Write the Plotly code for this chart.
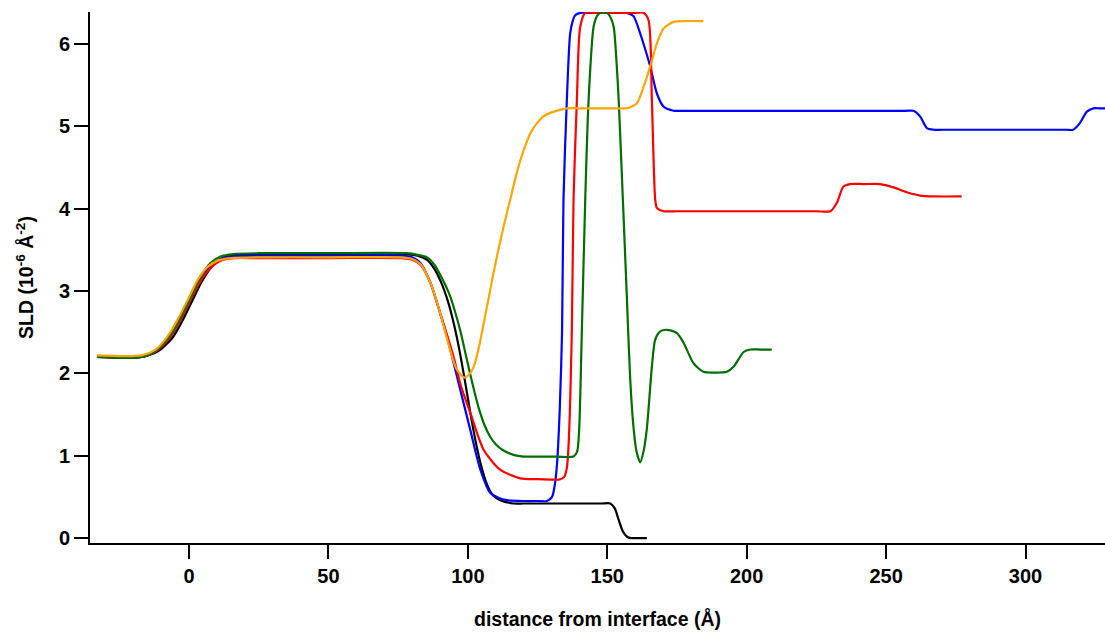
import plotly.graph_objects as go

# ---- data (distance in Å, SLD in 1e-6 Å^-2) ----
black_x = [-33, -17, -11, -6, -2.5, 1, 4.5, 8, 12, 17, 25, 50, 78, 82, 85.4, 88, 90.5, 93, 95,
           97, 99, 101, 103, 105, 107, 109, 111.6, 116.4, 120, 130, 140, 148, 151.1, 152.7,
           154.1, 155.6, 157.1, 158.5, 161, 164.2]
black_y = [2.2, 2.2, 2.27, 2.43, 2.63, 2.87, 3.11, 3.29, 3.40, 3.44, 3.45, 3.45, 3.45, 3.43,
           3.38, 3.27, 3.10, 2.86, 2.60, 2.28, 1.90, 1.50, 1.14, 0.85, 0.64, 0.52, 0.46, 0.42,
           0.42, 0.42, 0.42, 0.42, 0.42, 0.36, 0.22, 0.08, 0.016, 0.0, 0.0, 0.0]

blue_x = [-33, -17, -11.4, -6.6, -3, 0.5, 4.1, 7.7, 11.3, 16, 25, 50, 76, 80, 83, 86.6, 90.1,
          92.5, 94, 97.3, 100.9, 104.5, 108, 111, 114, 120, 125, 128.4, 130.2, 131.2, 132, 133,
          133.8, 134.3, 135.5, 136.7, 137.6, 138.5, 140.3, 143, 150, 154, 157, 159.4, 161.8,
          163.5, 165.4, 167.8, 170.2, 173.8, 177, 182, 200, 230, 252, 257, 259.8, 262.2, 264.6,
          267, 270, 290, 310, 314.5, 317.1, 319.5, 322, 324.3, 326.5, 328.5]
blue_y = [2.2, 2.2, 2.28, 2.45, 2.65, 2.89, 3.13, 3.30, 3.39, 3.42, 3.43, 3.43, 3.43, 3.41,
          3.34, 3.10, 2.73, 2.45, 2.25, 1.80, 1.31, 0.83, 0.55, 0.49, 0.46, 0.45, 0.45, 0.45,
          0.50, 0.65, 0.91, 1.6, 2.53, 4.11, 5.32, 6.13, 6.28, 6.35, 6.38, 6.38, 6.38, 6.38,
          6.38, 6.34, 6.13, 5.95, 5.73, 5.40, 5.24, 5.19, 5.19, 5.19, 5.19, 5.19, 5.19, 5.19,
          5.19, 5.12, 4.98, 4.96, 4.96, 4.96, 4.96, 4.96, 4.96, 5.04, 5.18, 5.22, 5.22, 5.22]

red_x = [-33, -17, -11.4, -6.6, -3, 0.5, 4.1, 7.7, 11.3, 16, 25, 50, 76, 80, 83, 86.6, 90.1,
         94.9, 97.5, 100.9, 105.7, 111.6, 118.8, 125, 130, 132.6, 134.5, 135.5, 136.1, 137.3,
         137.9, 139.1, 140.3, 142.1, 145, 150, 155, 160, 163, 164.8, 166, 167.2, 167.8, 170.2,
         175, 190, 210, 225, 230, 232.3, 234.7, 237.1, 242, 247.8, 252.6, 257.4, 262.2, 267,
         277.1]
red_y = [2.2, 2.2, 2.28, 2.45, 2.65, 2.89, 3.12, 3.28, 3.37, 3.40, 3.40, 3.40, 3.40, 3.38,
         3.32, 3.10, 2.73, 2.20, 1.85, 1.52, 1.07, 0.83, 0.725, 0.715, 0.71, 0.71, 0.74, 0.85,
         1.11, 2.53, 4.11, 5.32, 6.21, 6.38, 6.38, 6.38, 6.38, 6.38, 6.38, 6.29, 5.32, 4.11,
         4.01, 3.97, 3.97, 3.97, 3.97, 3.97, 3.97, 4.07, 4.27, 4.30, 4.30, 4.30, 4.26, 4.20,
         4.16, 4.15, 4.15]

green_x = [-33, -17, -11.4, -6.6, -3, 0.5, 4.1, 7.7, 11.3, 16, 25, 50, 78, 82, 85.4, 88, 90.5,
           93.5, 95.5, 97.5, 99.5, 101, 102.5, 104, 106, 108, 110, 112.5, 116.4, 120, 125, 132,
           137.9, 139.2, 139.9, 140.9, 142.1, 143.3, 145.1, 146.3, 147.5, 149.9, 151.1, 152.3,
           153.2, 154.1, 155.6, 157, 158.2, 159.4, 160.5, 161.8, 163, 164.2, 166, 167.2, 169,
           171.4, 175, 177.4, 181, 184.5, 188.7, 192.9, 195.3, 198.9, 201.3, 205, 209]
green_y = [2.2, 2.2, 2.29, 2.47, 2.68, 2.92, 3.17, 3.34, 3.42, 3.45, 3.46, 3.46, 3.46, 3.44,
           3.41, 3.32, 3.17, 2.95, 2.74, 2.49, 2.19, 1.97, 1.76, 1.57, 1.37, 1.23, 1.14, 1.07,
           1.01, 0.99, 0.99, 0.99, 0.99, 1.05, 1.3, 2.53, 4.11, 5.32, 6.21, 6.34, 6.38, 6.38,
           6.33, 6.21, 5.85, 5.32, 4.11, 2.95, 1.95, 1.35, 1.05, 0.92, 1.05, 1.33, 2.08, 2.41,
           2.51, 2.53, 2.49, 2.37, 2.12, 2.02, 2.01, 2.02, 2.08, 2.26, 2.29, 2.29, 2.29]

orange_x = [-33, -17, -12, -7.5, -4, -0.5, 3, 6.5, 10.3, 15, 25, 50, 76, 80, 83, 86.6, 90.1,
            93.7, 96, 98.7, 100.3, 102.1, 104, 105.7, 107.5, 109.2, 111.6, 113.5, 115.2, 117.5,
            120, 122.5, 124.8, 127, 130.8, 135.6, 140, 150, 155, 157, 160.6, 163, 165.4, 167.8,
            170.2, 173.8, 178, 184.4]
orange_y = [2.22, 2.22, 2.29, 2.46, 2.66, 2.89, 3.13, 3.29, 3.37, 3.40, 3.41, 3.41, 3.41, 3.39,
            3.33, 3.10, 2.73, 2.28, 2.05, 1.95, 1.98, 2.08, 2.32, 2.61, 2.92, 3.22, 3.60, 3.88,
            4.11, 4.43, 4.71, 4.92, 5.04, 5.12, 5.18, 5.22, 5.22, 5.22, 5.22, 5.22, 5.28, 5.48,
            5.73, 6.01, 6.19, 6.27, 6.28, 6.28]

x_ticks = [0, 50, 100, 150, 200, 250, 300]
y_ticks = [0, 1, 2, 3, 4, 5, 6]

series = [
    ("black", black_x, black_y, "#000000"),
    ("blue", blue_x, blue_y, "#0000FF"),
    ("red", red_x, red_y, "#FF0000"),
    ("green", green_x, green_y, "#006E00"),
    ("orange", orange_x, orange_y, "#FFA500"),
]

fig = go.Figure()
for name, xs, ys, col in series:
    fig.add_trace(go.Scatter(x=xs, y=ys, mode="lines", name=name,
                             line=dict(color=col, width=2.2, shape="spline", smoothing=0.7)))

font_main = "Liberation Sans, Arial, sans-serif"
fig.update_layout(
    width=1105, height=633,
    margin=dict(l=90, r=0, t=12, b=90),
    paper_bgcolor="white", plot_bgcolor="white",
    showlegend=False,
    font=dict(family=font_main, color="black", size=20),
)
fig.update_xaxes(
    range=[-35.5, 328.5], tickvals=x_ticks, ticktext=[str(v) for v in x_ticks],
    showline=True, linecolor="black", linewidth=2, ticks="outside", ticklen=14,
    tickwidth=2, tickcolor="black", showgrid=False, zeroline=False,
    tickfont=dict(family=font_main, size=20, color="black", weight="bold"),
    title=dict(text="<b>distance from interface (Å)</b>", standoff=26,
               font=dict(family=font_main, size=19.5, color="black")),
)
fig.update_yaxes(
    range=[-0.06, 6.39], tickvals=y_ticks, ticktext=[str(v) for v in y_ticks],
    showline=True, linecolor="black", linewidth=2, ticks="outside", ticklen=14,
    tickwidth=2, tickcolor="black", showgrid=False, zeroline=False,
    tickfont=dict(family=font_main, size=20, color="black", weight="bold"),
    title=dict(text="<b>SLD (10<sup>-6</sup> Å<sup>-2</sup>)</b>", standoff=20,
               font=dict(family=font_main, size=19.5, color="black")),
)

fig.write_html("out.html", config={"displayModeBar": False},
               post_script="document.body.style.margin='0px';document.body.style.overflow='hidden';")
